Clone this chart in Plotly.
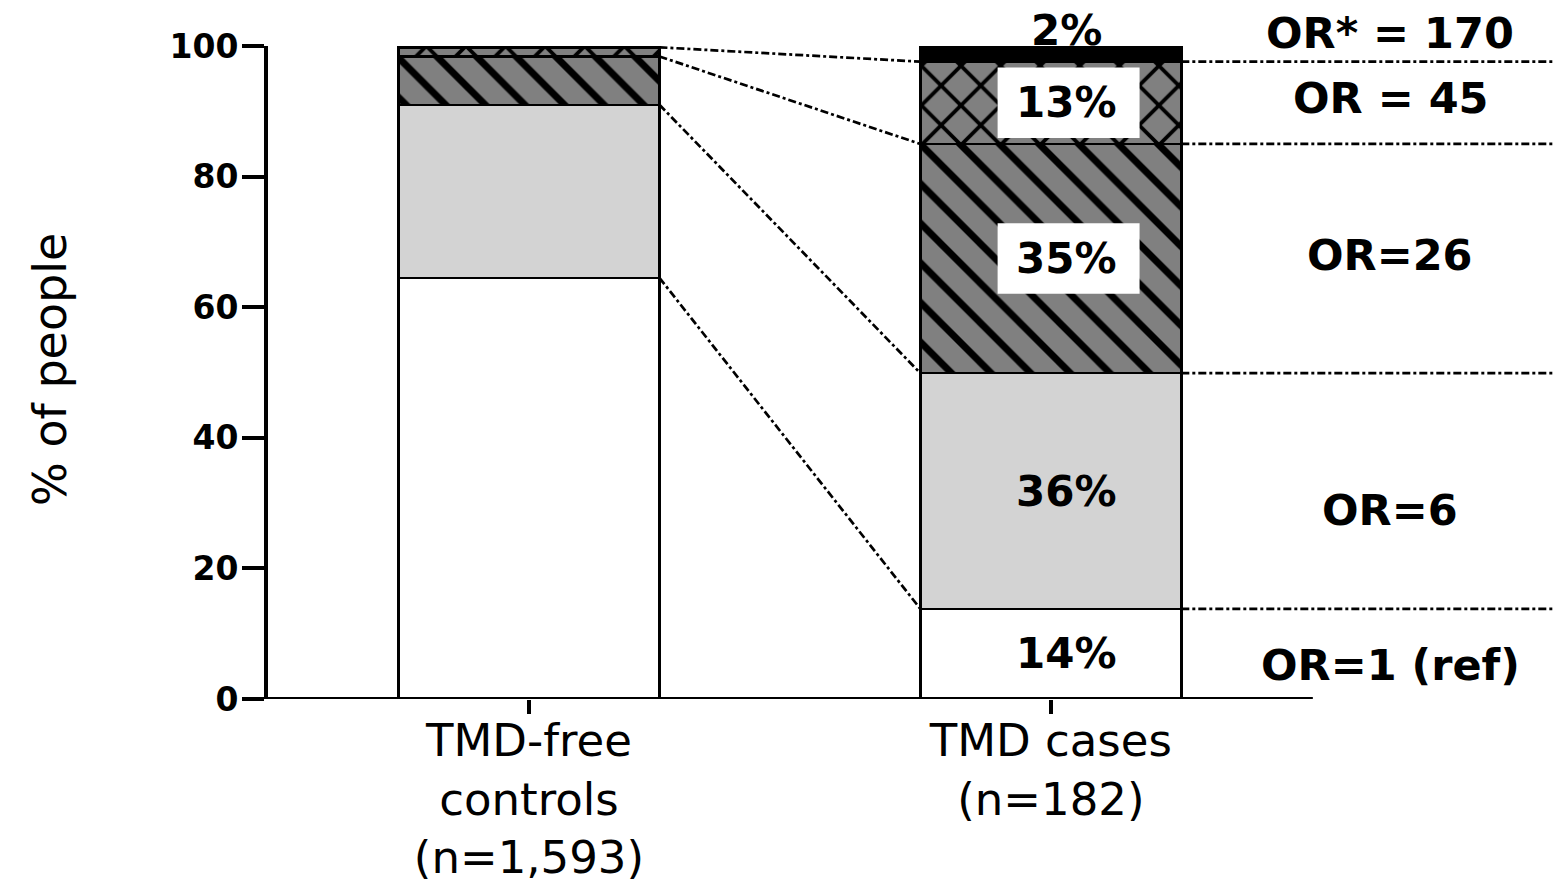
import plotly.graph_objects as go
import numpy as np

# ---------------- data ----------------
categories = ["TMD-free<br>controls<br>(n=1,593)", "TMD cases<br>(n=182)"]
controls_pct = [64.5, 26.5, 7.4, 1.4, 0.2]     # bottom -> top
cases_pct = [13.8, 36.1, 35.1, 12.6, 2.4]      # bottom -> top
case_labels = ["14%", "36%", "35%", "13%", "2%"]
or_labels = ["OR=1 (ref)", "OR=6", "OR=26", "OR = 45", "OR* = 170"]
y_ticks = [0, 20, 40, 60, 80, 100]

# ---------------- styles ----------------
fills = ["white", "#d3d3d3", "#808080", "#808080", "black"]
patterns = ["", "", "\\", "x", ""]
boxed = [False, False, True, True, False]
or_label_y = [5.2, 29, 68, 92, 102]

BAR_W = 0.5
X_MAX = 1.966
AXIS_END = 1.502
BOLD = dict(family="DejaVu Sans", weight="bold", color="black")

fig = go.Figure()
for i in range(len(cases_pct)):
    fig.add_trace(go.Bar(
        x=[0, 1], y=[controls_pct[i], cases_pct[i]], width=BAR_W,
        marker=dict(color=fills[i], line=dict(color="black", width=2.5),
                    pattern=dict(shape=patterns[i], fgcolor="black", bgcolor=fills[i],
                                 size=28, solidity=0.25, fillmode="replace")),
        cliponaxis=False, showlegend=False, hoverinfo="skip"))

cum_ctrl = np.cumsum(controls_pct)
cum_case = np.cumsum(cases_pct)
mid_case = cum_case - np.array(cases_pct) / 2

shapes = []
dash = "8px,3px,3px,3px"
for i in range(len(cases_pct) - 1):
    shapes.append(dict(type="line", xref="x", yref="y", x0=BAR_W / 2, x1=1 - BAR_W / 2,
                       y0=cum_ctrl[i], y1=cum_case[i], line=dict(color="black", width=2.7, dash=dash)))
    shapes.append(dict(type="line", xref="x", yref="y", x0=1 + BAR_W / 2, x1=X_MAX,
                       y0=cum_case[i], y1=cum_case[i], line=dict(color="black", width=2.7, dash=dash)))
# x-axis baseline
shapes.append(dict(type="line", xref="x", yref="y", x0=-0.5, x1=AXIS_END, y0=0, y1=0,
                   line=dict(color="black", width=4), layer="above"))
# white label boxes
for i in range(len(cases_pct)):
    if boxed[i]:
        shapes.append(dict(type="rect", xref="x", yref="y", x0=1.034 - 0.136, x1=1.034 + 0.136,
                           y0=mid_case[i] - 5.4, y1=mid_case[i] + 5.4,
                           fillcolor="white", line=dict(width=0), layer="above"))

annotations = []
for i in range(len(cases_pct)):
    top = i == len(cases_pct) - 1
    annotations.append(dict(x=1, y=cum_case[i] if top else mid_case[i], xref="x", yref="y",
                            text=case_labels[i], showarrow=False, xshift=16,
                            yshift=16 if top else 0,
                            font=dict(size=42, **BOLD)))
for i in range(len(or_labels)):
    annotations.append(dict(x=1.65, y=or_label_y[i] / 100, xref="x", yref="paper", text=or_labels[i],
                            showarrow=False, xanchor="center", yanchor="middle",
                            font=dict(size=43, **BOLD)))
annotations.append(dict(x=(50 - 268) / 1287, y=0.504, xref="paper", yref="paper",
                        text="% of people", textangle=-90, showarrow=False,
                        xanchor="center", yanchor="middle",
                        font=dict(family="DejaVu Sans", size=46, color="black")))

fig.update_layout(
    barmode="stack", width=1555, height=892,
    margin=dict(l=268, r=0, t=46, b=193),
    plot_bgcolor="white", paper_bgcolor="white",
    shapes=shapes, annotations=annotations,
    xaxis=dict(range=[-0.5, X_MAX], tickvals=[0, 1], ticktext=categories,
               ticks="outside", ticklen=14, tickwidth=4, tickcolor="black",
               showline=False, showgrid=False, zeroline=False, ticklabelstandoff=-12,
               tickfont=dict(family="DejaVu Sans", size=45, color="black")),
    yaxis=dict(range=[0, 100], tickvals=y_ticks, ticks="outside", ticklen=22, tickwidth=4,
               tickcolor="black", showline=True, linewidth=4, linecolor="black",
               showgrid=False, zeroline=False, ticklabelstandoff=-3,
               tickfont=dict(size=33, **BOLD)),
)

fig.write_html("out.html")
